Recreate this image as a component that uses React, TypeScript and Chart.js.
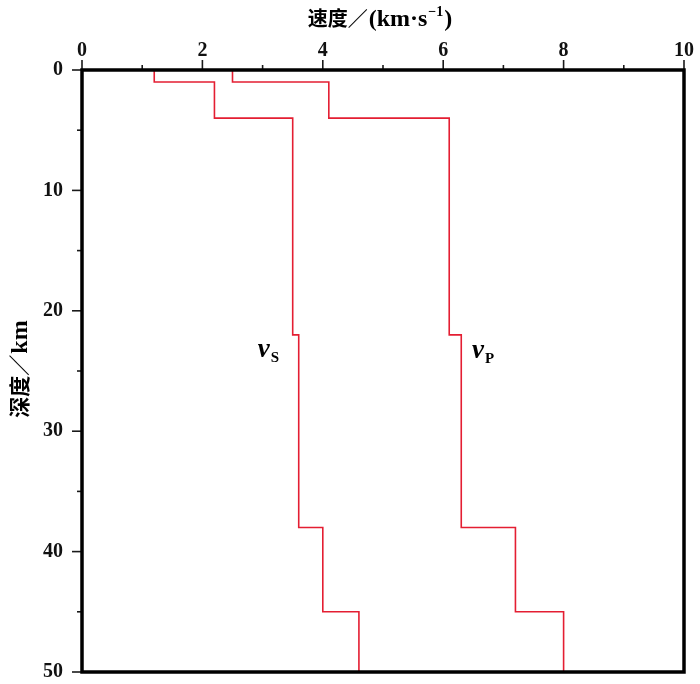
import React, { useEffect, useRef } from 'react';
import { Chart, registerables } from 'chart.js';

Chart.register(...registerables);

// Layer boundaries (depth, km)
const layerTops = [0, 1, 4, 22, 38, 45];
const layerBottoms = [1, 4, 22, 38, 45, 50];
// Velocities (km/s)
const vsValues = [1.2, 2.2, 3.5, 3.6, 4.0, 4.6];
const vpValues = [2.5, 4.1, 6.1, 6.3, 7.2, 8.0];
// Ticks
const xMajorTicks = [0, 2, 4, 6, 8, 10];
const xMinorTicks = [1, 3, 5, 7, 9];
const yMajorTicks = [0, 10, 20, 30, 40, 50];
const yMinorTicks = [5, 15, 25, 35, 45];
// Texts: axis titles (速度/(km·s⁻¹), 深度/km) split into runs for mixed fonts
const xTitleParts = ['速度／', '(km·s', '−1', ')'];
const yTitleParts = ['深度／', 'km'];
const seriesLabels = [
  { main: 'v', sub: 'S', x: 2.92, y: 23.8 },
  { main: 'v', sub: 'P', x: 6.48, y: 23.9 },
];

const SERIF = "'Liberation Serif', serif";
const CJK = "'Noto Sans CJK SC', sans-serif";
const FONT = "'Liberation Serif', 'Noto Sans CJK SC', serif";
const RED = '#e41e32';

function stepPoints(vals: number[]) {
  const pts: { x: number; y: number }[] = [];
  vals.forEach((v, i) => {
    pts.push({ x: v, y: layerTops[i] });
    pts.push({ x: v, y: layerBottoms[i] });
  });
  return pts;
}

const zeroPad = (s: any) => {
  s.paddingLeft = 0;
  s.paddingRight = 0;
  s.paddingTop = 0;
  s.paddingBottom = 0;
};

type Run = { t: string; f: string; dy?: number; gap?: number };

function drawRuns(ctx: CanvasRenderingContext2D, runs: Run[], cx: number, by: number) {
  let total = 0;
  const widths = runs.map((r) => {
    ctx.font = r.f;
    const w = ctx.measureText(r.t).width + (r.gap || 0);
    total += w;
    return w;
  });
  let x = cx - total / 2;
  runs.forEach((r, i) => {
    ctx.font = r.f;
    ctx.fillText(r.t, x, by + (r.dy || 0));
    x += widths[i];
  });
}

const decorPlugin = {
  id: 'decor',
  afterDatasetsDraw(chart: any) {
    const { ctx, chartArea, scales } = chart;
    const { left, top, right, bottom } = chartArea;
    const xs = scales.x;
    const ys = scales.y;
    ctx.save();
    ctx.strokeStyle = '#1a1a1a';
    ctx.lineWidth = 1.6;
    const seg = (x1: number, y1: number, x2: number, y2: number) => {
      ctx.beginPath();
      ctx.moveTo(x1, y1);
      ctx.lineTo(x2, y2);
      ctx.stroke();
    };
    xMajorTicks.forEach((v) => {
      const px = xs.getPixelForValue(v);
      seg(px, top, px, top - 10);
    });
    xMinorTicks.forEach((v) => {
      const px = xs.getPixelForValue(v);
      seg(px, top, px, top - 5);
    });
    yMajorTicks.forEach((v) => {
      const py = ys.getPixelForValue(v);
      seg(left, py, left - 10, py);
    });
    yMinorTicks.forEach((v) => {
      const py = ys.getPixelForValue(v);
      seg(left, py, left - 5, py);
    });
    ctx.strokeStyle = '#000';
    ctx.lineWidth = 3.5;
    ctx.strokeRect(left, top, right - left, bottom - top);

    ctx.fillStyle = '#000';
    ctx.textBaseline = 'alphabetic';
    ctx.textAlign = 'left';
    seriesLabels.forEach((l) => {
      const px = xs.getPixelForValue(l.x);
      const py = ys.getPixelForValue(l.y);
      ctx.font = `italic bold 27px ${SERIF}`;
      ctx.fillText(l.main, px, py);
      const w = ctx.measureText(l.main).width;
      ctx.font = `bold 15px ${SERIF}`;
      ctx.fillText(l.sub, px + w + 1, py + 5);
    });

    // x-axis title (top)
    drawRuns(
      ctx,
      [
        { t: xTitleParts[0], f: `bold 20px ${CJK}`, gap: 1 },
        { t: xTitleParts[1], f: `bold 24px ${SERIF}`, gap: 1 },
        { t: xTitleParts[2], f: `bold 14px ${SERIF}`, dy: -10, gap: 1 },
        { t: xTitleParts[3], f: `bold 24px ${SERIF}` },
      ],
      (left + right) / 2 - 3,
      26
    );

    // y-axis title (left, rotated)
    ctx.save();
    ctx.translate(27, (top + bottom) / 2 - 2);
    ctx.rotate(-Math.PI / 2);
    drawRuns(
      ctx,
      [
        { t: yTitleParts[0], f: `bold 21px ${CJK}`, gap: 1 },
        { t: yTitleParts[1], f: `bold 24px ${SERIF}` },
      ],
      0,
      0
    );
    ctx.restore();
    ctx.restore();
  },
};

export default function App() {
  const ref = useRef<HTMLCanvasElement>(null);
  useEffect(() => {
    document.body.style.margin = '0';
    const chart = new Chart(ref.current as HTMLCanvasElement, {
      type: 'scatter',
      data: {
        datasets: [
          {
            label: 'vS',
            data: stepPoints(vsValues),
            showLine: true,
            borderColor: RED,
            borderWidth: 1.6,
            pointRadius: 0,
            fill: false,
          },
          {
            label: 'vP',
            data: stepPoints(vpValues),
            showLine: true,
            borderColor: RED,
            borderWidth: 1.6,
            pointRadius: 0,
            fill: false,
          },
        ],
      },
      options: {
        animation: false,
        responsive: false,
        devicePixelRatio: 1,
        layout: { padding: { left: 0, top: 0, right: 16, bottom: 12 } },
        plugins: { legend: { display: false }, tooltip: { enabled: false } },
        scales: {
          x: {
            type: 'linear',
            position: 'top',
            min: 0,
            max: 10,
            afterFit: (s: any) => {
              s.height = 70;
              zeroPad(s);
            },
            afterBuildTicks: (s: any) => {
              s.ticks = xMajorTicks.map((v) => ({ value: v }));
            },
            grid: { display: false, drawTicks: false },
            border: { display: false },
            ticks: {
              color: '#111',
              font: { family: FONT, size: 20, weight: 'bold' },
              padding: 7,
              maxRotation: 0,
            },
            title: { display: false },
          },
          y: {
            type: 'linear',
            reverse: true,
            min: 0,
            max: 50,
            afterFit: (s: any) => {
              s.width = 82;
              zeroPad(s);
            },
            afterBuildTicks: (s: any) => {
              s.ticks = yMajorTicks.map((v) => ({ value: v }));
            },
            grid: { display: false, drawTicks: false },
            border: { display: false },
            ticks: {
              color: '#111',
              font: { family: FONT, size: 20, weight: 'bold' },
              padding: 19,
            },
            title: { display: false },
          },
        },
      },
      plugins: [decorPlugin],
    } as any);
    return () => chart.destroy();
  }, []);
  return (
    <div style={{ width: 700, height: 684 }}>
      <canvas ref={ref} width={700} height={684} />
    </div>
  );
}
